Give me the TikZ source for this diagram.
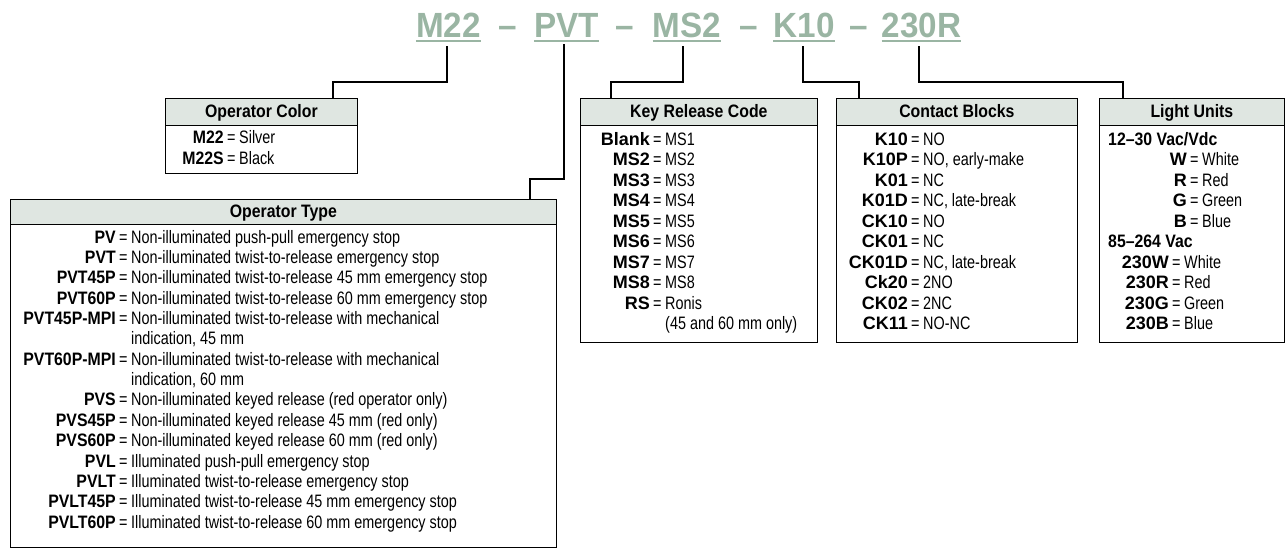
\documentclass[tikz,border=0pt]{standalone}
\usepackage{fontspec}
\setmainfont{Liberation Sans}[FakeStretch=0.80]
\newfontfamily\titlefont{Liberation Sans}[FakeStretch=0.95]
\newfontfamily\lblfont{Liberation Sans}[FakeStretch=1.0]
\newfontfamily\lblnfont{Liberation Sans}[FakeStretch=0.88]
\newfontfamily\hdrfont{Liberation Sans}[FakeStretch=0.88]
\usetikzlibrary{calc}
\definecolor{titlecol}{HTML}{9AB5A3}
\definecolor{hdrfill}{HTML}{DFE6E1}
\newcommand\bodysize{\fontsize{18}{21}\selectfont}
\newcommand\orow[5]{%
  \node[lbl] (#1l) at (#2-15,#3) {#4};
  \node[eqs] (#1e) at (#2-12,#3) {=};
  \node[desc] (#1d) at (#2,#3) {#5};}
\newcommand\ocont[4]{\node[desc] (#1d) at (#2,#3) {#4};}
\begin{document}
\begin{tikzpicture}[x=1pt,y=-1pt,
  title/.style={font=\titlefont\bfseries\fontsize{35}{40}\selectfont, text=titlecol, inner sep=0, anchor=base},
  uline/.style={titlecol, line width=2.2},
  hdr/.style={draw, line width=0.8, fill=hdrfill, anchor=north west, inner sep=0, text height=11.5, text depth=0, font=\hdrfont\bfseries\bodysize},
  bodybox/.style={draw, line width=0.8, anchor=north west, inner sep=0},
  lbl/.style={anchor=base east, inner sep=0, font=\lblfont\bfseries\bodysize},
  eqs/.style={anchor=base west, inner sep=0, font=\bodysize},
  desc/.style={anchor=base west, inner sep=0, font=\bodysize},
  grp/.style={anchor=base west, inner sep=0, font=\hdrfont\bfseries\bodysize},
  conn/.style={line width=2}]
\useasboundingbox (0,0) rectangle (1286,550);

% title
\node[title] (t1) at (448.5,37) {M22};
\node[title] (d1) at (508,37) {–};
\node[title] (t2) at (566.5,37) {PVT};
\node[title] (d2) at (625,37) {–};
\node[title] (t3) at (687,37) {MS2};
\node[title] (d3) at (749,37) {–};
\node[title] (t4) at (804,37) {K10};
\node[title] (d4) at (859,37) {–};
\node[title] (t5) at (921.5,37) {230R};
\foreach \t in {t1,t2,t3,t4,t5}
  \draw[uline] ([yshift=-4]\t.base west) -- ([yshift=-4]\t.base east);

% boxes
\node[hdr, minimum width=192, minimum height=27] (ohdr) at (165,98) {Operator Color};
\node[bodybox, minimum width=192, minimum height=48] (obody) at (165,125) {};
\node[hdr, minimum width=546, minimum height=25] (thdr) at (10,199) {Operator Type};
\node[bodybox, minimum width=546, minimum height=323] (tbody) at (10,224) {};
\node[hdr, minimum width=237, minimum height=27] (khdr) at (580,98) {Key Release Code};
\node[bodybox, minimum width=237, minimum height=217] (kbody) at (580,125) {};
\node[hdr, minimum width=241, minimum height=27] (chdr) at (836,98) {Contact Blocks};
\node[bodybox, minimum width=241, minimum height=217] (cbody) at (836,125) {};
\node[hdr, minimum width=185, minimum height=27] (lhdr) at (1099,98) {Light Units};
\node[bodybox, minimum width=185, minimum height=217] (lbody) at (1099,125) {};

% connectors
\draw[conn] ([xshift=-1.5,yshift=-9]t1.base) -- ++(0,36) -| ([xshift=72]ohdr.north);
\draw[conn] ([xshift=-2.5,yshift=-7]t2.base) -- ++(0,135) -| ([xshift=247]thdr.north);
\draw[conn] ([xshift=-4,yshift=-9]t3.base) -- ++(0,36) -| ([xshift=-87.5]khdr.north);
\draw[conn] ([xshift=-1,yshift=-9]t4.base) -- ++(0,36) -| ([xshift=-97.5]chdr.north);
\draw[conn] ([xshift=-2.5,yshift=-9]t5.base) -- ++(0,36) -| ([xshift=-68.5]lhdr.north);

\begin{scope}[lbl/.append style={font=\lblnfont\bfseries\bodysize}]
% operator color
\orow{oa}{239}{143}{M22}{Silver}
\orow{ob}{239}{164}{M22S}{Black}

% operator type
\orow{pa}{131}{243}{PV}{Non-illuminated push-pull emergency stop}
\orow{pb}{131}{263.4}{PVT}{Non-illuminated twist-to-release emergency stop}
\orow{pc}{131}{283.7}{PVT45P}{Non-illuminated twist-to-release 45 mm emergency stop}
\orow{pd}{131}{304.1}{PVT60P}{Non-illuminated twist-to-release 60 mm emergency stop}
\orow{pe}{131}{324.4}{PVT45P-MPI}{Non-illuminated twist-to-release with mechanical}
\ocont{pf}{131}{344.8}{indication, 45 mm}
\orow{pg}{131}{365.2}{PVT60P-MPI}{Non-illuminated twist-to-release with mechanical}
\ocont{ph}{131}{385.5}{indication, 60 mm}
\orow{pi}{131}{405.9}{PVS}{Non-illuminated keyed release (red operator only)}
\orow{pj}{131}{426.2}{PVS45P}{Non-illuminated keyed release 45 mm (red only)}
\orow{pk}{131}{446.6}{PVS60P}{Non-illuminated keyed release 60 mm (red only)}
\orow{pl}{131}{467}{PVL}{Illuminated push-pull emergency stop}
\orow{pm}{131}{487.3}{PVLT}{Illuminated twist-to-release emergency stop}
\orow{pn}{131}{507.7}{PVLT45P}{Illuminated twist-to-release 45 mm emergency stop}
\orow{po}{131}{528}{PVLT60P}{Illuminated twist-to-release 60 mm emergency stop}
\end{scope}

% key release
\orow{ka}{665}{145}{Blank}{MS1}
\orow{kb}{665}{165.5}{MS2}{MS2}
\orow{kc}{665}{186}{MS3}{MS3}
\orow{kd}{665}{206.5}{MS4}{MS4}
\orow{ke}{665}{227}{MS5}{MS5}
\orow{kf}{665}{247.5}{MS6}{MS6}
\orow{kg}{665}{268}{MS7}{MS7}
\orow{kh}{665}{288.5}{MS8}{MS8}
\orow{ki}{665}{309}{RS}{Ronis}
\ocont{kj}{665}{329.5}{(45 and 60 mm only)}

% contact blocks
\orow{ca}{923}{145}{K10}{NO}
\orow{cb}{923}{165.5}{K10P}{NO, early-make}
\orow{cc}{923}{186}{K01}{NC}
\orow{cd}{923}{206.5}{K01D}{NC, late-break}
\orow{ce}{923}{227}{CK10}{NO}
\orow{cf}{923}{247.5}{CK01}{NC}
\orow{cg}{923}{268}{CK01D}{NC, late-break}
\orow{ch}{923}{288.5}{Ck20}{2NO}
\orow{ci}{923}{309}{CK02}{2NC}
\orow{cj}{923}{329.5}{CK11}{NO-NC}

% light units
\node[grp] (lg1) at (1108,145) {12–30 Vac/Vdc};
\orow{la}{1202}{165.5}{W}{White}
\orow{lb}{1202}{186}{R}{Red}
\orow{lc}{1202}{206.5}{G}{Green}
\orow{ld}{1202}{227}{B}{Blue}
\node[grp] (lg2) at (1108,247.5) {85–264 Vac};
\orow{le}{1184}{268}{230W}{White}
\orow{lf}{1184}{288.5}{230R}{Red}
\orow{lg}{1184}{309}{230G}{Green}
\orow{lh}{1184}{329.5}{230B}{Blue}
\end{tikzpicture}
\end{document}
